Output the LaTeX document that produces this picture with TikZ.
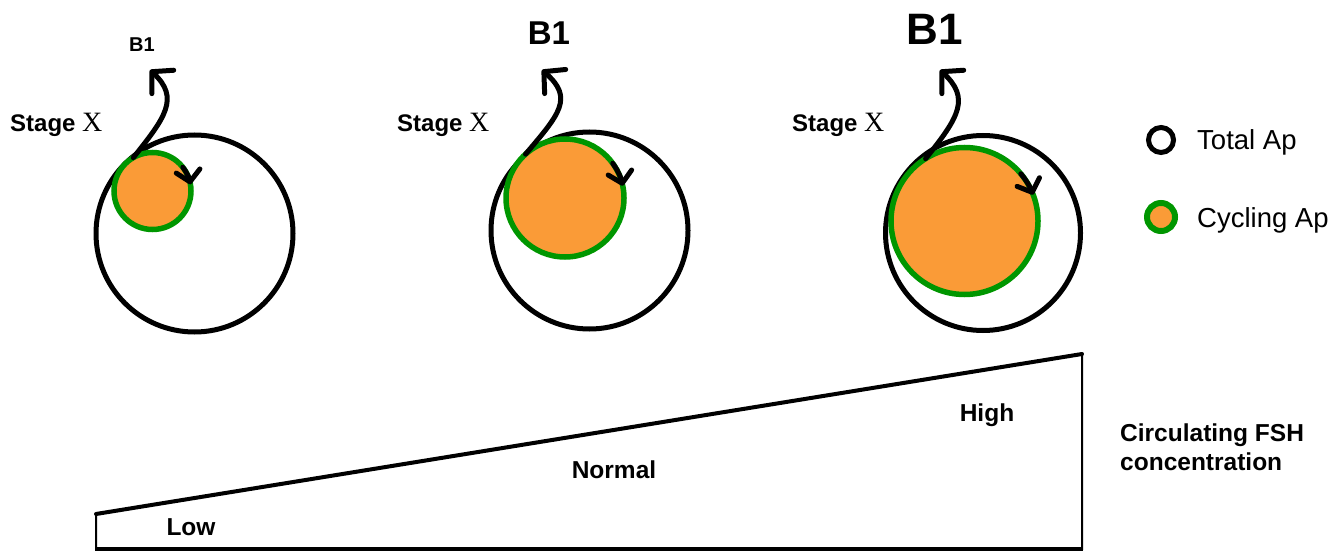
\documentclass[tikz,border=0pt]{standalone}
\usepackage{fontspec}
\setmainfont{Liberation Sans}
\newfontfamily\timesx{Liberation Serif}
\usetikzlibrary{arrows.meta}
\definecolor{apgreen}{RGB}{0,150,0}
\definecolor{aporange}{RGB}{250,155,55}
\tikzset{
  total/.style={circle, draw=black, line width=5pt, inner sep=0pt, outer sep=0pt, minimum size=#1},
  cycling/.style={circle, draw=apgreen, fill=aporange, line width=5.5pt, inner sep=0pt, outer sep=0pt, minimum size=#1},
  curlarrow/.style={line width=5pt, line cap=round, line join=round, -{Straight Barb[round, length=15pt, width=32pt]}},
  turnarrow/.style={line width=5pt, line cap=round, line join=round, -{Straight Barb[round, length=11pt, width=24pt]}},
  stagelbl/.style={anchor=base west, inner sep=0pt, font=\fontsize{24}{28}\selectfont\bfseries},
  blbl/.style={anchor=base, inner sep=0pt, font=\fontsize{#1}{#1}\selectfont\bfseries},
  levellbl/.style={anchor=base, inner sep=0pt, font=\fontsize{24.5}{28}\selectfont\bfseries},
  leglbl/.style={anchor=base west, inner sep=0pt, font=\fontsize{27.5}{32}\selectfont},
}
\newcommand{\stagex}{Stage {\timesx\fontsize{28}{30}\selectfont\mdseries X}}
\begin{document}
\begin{tikzpicture}[x=1pt, y=-1pt]
\useasboundingbox (0,0) rectangle (1343,553);

% ---------- panel 1 ----------
\node[total=197pt] (T1) at (194.5,233.5) {};
\node[cycling=77pt] (C1) at (152.5,191) {};
\coordinate (tip1) at (150,70);
\draw[curlarrow] (C1.120) .. controls +(32,-40) and +(30,28) .. (tip1);
\draw[turnarrow] (C1.38) arc[start angle=-38, end angle=-10, radius=38.5];
\node[blbl=20] (B1a) at (142,52) {B1};
\node[stagelbl] (S1) at (10,132) {\stagex};

% ---------- panel 2 ----------
\node[total=197pt] (T2) at (589.5,230.5) {};
\node[cycling=118pt] (C2) at (565,198) {};
\coordinate (tip2) at (542,70);
\draw[curlarrow] (C2.132) .. controls +(34,-40) and +(32,28) .. (tip2);
\draw[turnarrow] (C2.36) arc[start angle=-36, end angle=-12, radius=59];
\node[blbl=33] (B1b) at (549,45) {B1};
\node[stagelbl] (S2) at (397,132) {\stagex};

% ---------- panel 3 ----------
\node[total=195pt] (T3) at (983,233) {};
\node[cycling=147pt] (C3) at (964.5,221) {};
\coordinate (tip3) at (940,70);
\draw[curlarrow] (C3.122) .. controls +(34,-42) and +(30,28) .. (tip3);
\draw[turnarrow] (C3.40) arc[start angle=-40, end angle=-21, radius=73.5];
\node[blbl=44] (B1c) at (935,45) {B1};
\node[stagelbl] (S3) at (792,132) {\stagex};

% ---------- legend ----------
\node[total=25pt] (LT) at (1161,140) {};
\node[leglbl] (LTt) at (1197,150) {Total Ap};
\node[circle, draw=apgreen, fill=aporange, line width=6pt, inner sep=0pt, minimum size=28pt] (LC) at (1161,217) {};
\node[leglbl] (LCt) at (1197,228) {Cycling Ap};

% ---------- FSH wedge ----------
\draw[line width=2pt, line join=miter] (96,514) -- (1082,354) -- (1082,549) -- (96,549) -- cycle;
\draw[line width=4pt, line cap=round] (96,514) -- (1082,354);
\draw[line width=4pt] (95,549) -- (1083,549);
\node[levellbl] (low) at (191,535) {Low};
\node[levellbl] (normal) at (614,478) {Normal};
\node[levellbl] (high) at (987,421) {High};
\node[anchor=base west, inner sep=0pt, font=\fontsize{24.5}{28}\selectfont\bfseries] (fsh1) at (1120,441) {Circulating FSH};
\node[anchor=base west, inner sep=0pt, font=\fontsize{24.5}{28}\selectfont\bfseries] (fsh2) at (1120,470) {concentration};
\end{tikzpicture}
\end{document}
